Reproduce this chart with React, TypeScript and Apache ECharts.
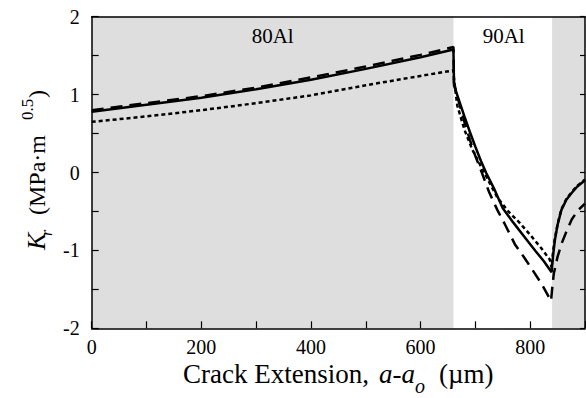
import React, { useEffect, useRef } from "react";
import * as echarts from "echarts";

// x: crack extension (µm), y: Kr (MPa·m^0.5)
const solidData: [number, number][] = [
  [0, 0.78], [100, 0.87], [200, 0.96], [300, 1.07], [400, 1.19], [500, 1.33], [600, 1.48], [660, 1.58],
  [661, 1.12], [670, 0.93], [680, 0.72], [690, 0.52], [700, 0.33], [710, 0.15], [720, -0.01], [735, -0.22],
  [750, -0.46], [770, -0.65], [790, -0.83], [810, -1.01], [825, -1.14], [839, -1.28],
  [842, -1.05], [845, -0.87], [850, -0.67], [857, -0.48], [866, -0.35], [876, -0.26], [886, -0.18], [900, -0.1],
];
const dashedData: [number, number][] = [
  [0, 0.8], [100, 0.89], [200, 0.98], [300, 1.09], [400, 1.22], [500, 1.36], [600, 1.51], [660, 1.61],
  [661, 1.15], [670, 0.9], [680, 0.65], [690, 0.42], [700, 0.21], [710, 0.03], [725, -0.25], [740, -0.48],
  [755, -0.68], [772, -0.92], [790, -1.1], [805, -1.26], [820, -1.42], [838, -1.65],
  [840, -1.5], [843, -1.3], [850, -1.08], [858, -0.9], [866, -0.76], [876, -0.6], [888, -0.48], [900, -0.4],
];
const dottedData: [number, number][] = [
  [0, 0.65], [100, 0.72], [200, 0.8], [300, 0.89], [400, 0.99], [500, 1.12], [600, 1.24], [660, 1.31],
  [661, 1.2], [667, 0.86], [680, 0.55], [694, 0.3], [710, 0.08], [725, -0.12], [740, -0.32], [760, -0.5],
  [780, -0.64], [800, -0.8], [820, -0.97], [836, -1.12], [839, -1.22],
  [842, -1.0], [845, -0.85], [850, -0.66], [857, -0.47], [866, -0.34], [876, -0.25], [886, -0.17], [900, -0.09],
];
const grayBands: [number, number][] = [[0, 660], [840, 900]];
const bandLabels = [{ text: "80Al", x: 329 }, { text: "90Al", x: 749 }];

const FONT = "Liberation Serif, Times New Roman, serif";

// text pieces: offset along the baseline (s), baseline shift (dy)
type Piece = { t: string; size: number; s: number; italic?: boolean; dy?: number };

function runText(pieces: Piece[], ox: number, oy: number, vertical: boolean) {
  return pieces.map((p) => {
    const off = (p.dy || 0) - 0.3375 * p.size;
    return {
      type: "text",
      x: vertical ? ox + off : ox + p.s,
      y: vertical ? oy - p.s : oy + off,
      rotation: vertical ? Math.PI / 2 : 0,
      z: 10,
      style: {
        text: p.t,
        font: `${p.italic ? "italic " : ""}${p.size}px ${FONT}`,
        fill: "#000",
        align: "left",
        verticalAlign: "middle",
      },
    };
  });
}

export default function App() {
  const ref = useRef<HTMLDivElement>(null);
  useEffect(() => {
    if (!ref.current) return;
    const chart = echarts.init(ref.current, null, { renderer: "svg" });
    const axisLabelStyle = { fontFamily: FONT, fontSize: 20, color: "#000" };
    const lineBase = { color: "#000", width: 2.5 };
    const xTitle = runText([
      { t: "Crack Extension,", size: 27, s: 0 },
      { t: "a-a", size: 27, italic: true, s: 196 },
      { t: "o", size: 20, italic: true, dy: 10, s: 232 },
      { t: "(µm)", size: 27, s: 256 },
    ], 183, 383, false);
    const yTitle = runText([
      { t: "K", size: 26, italic: true, s: 0 },
      { t: "r", size: 16, italic: true, dy: 7, s: 14 },
      { t: "(MPa·m", size: 24, s: 35 },
      { t: "0.5", size: 17, dy: -12, s: 130 },
      { t: ")", size: 24, s: 152 },
    ], 45, 250, true);
    const xToPx = (v: number) => 91.7 + v * 0.55;
    chart.setOption({
      animation: false,
      grid: { left: 91.7, right: 1.3, top: 16.7, bottom: 69.7 },
      xAxis: [
        {
          type: "value", min: 0, max: 900, interval: 100, z: 10,
          axisLine: { show: true, onZero: false, lineStyle: { color: "#000", width: 1.5 } },
          axisTick: { show: true, inside: true, length: 7, lineStyle: { color: "#000", width: 1.2 } },
          axisLabel: { ...axisLabelStyle, margin: 9, formatter: (v: number) => (v % 200 === 0 ? String(v) : "") },
          splitLine: { show: false },
        },
        {
          type: "value", min: 0, max: 900, position: "top", z: 10,
          axisLine: { show: true, onZero: false, lineStyle: { color: "#000", width: 1.5 } },
          axisTick: { show: false }, axisLabel: { show: false }, splitLine: { show: false },
        },
      ],
      yAxis: [
        {
          type: "value", min: -2, max: 2, interval: 0.5, z: 10,
          axisLine: { show: true, onZero: false, lineStyle: { color: "#000", width: 1.5 } },
          axisTick: { show: true, inside: true, length: 7, lineStyle: { color: "#000", width: 1.2 } },
          axisLabel: { ...axisLabelStyle, margin: 12, formatter: (v: number) => (Number.isInteger(v) ? String(v) : "") },
          splitLine: { show: false },
        },
        {
          type: "value", min: -2, max: 2, interval: 0.5, position: "right", z: 10,
          axisLine: { show: true, onZero: false, lineStyle: { color: "#000", width: 1.5 } },
          axisTick: { show: true, inside: true, length: 5, lineStyle: { color: "#000", width: 1.2 } },
          axisLabel: { show: false }, splitLine: { show: false },
        },
      ],
      series: [
        {
          type: "line", data: [], z: 0,
          markArea: {
            silent: true,
            itemStyle: { color: "#dedede" },
            data: grayBands.map(([a, b]) => [{ xAxis: a }, { xAxis: b }]),
          },
        },
        { type: "line", data: solidData, showSymbol: false, lineStyle: { ...lineBase, type: "solid" }, z: 3 },
        { type: "line", data: dottedData, showSymbol: false, lineStyle: { ...lineBase, type: [4, 3] }, z: 3 },
        { type: "line", data: dashedData, showSymbol: false, lineStyle: { ...lineBase, type: [12, 7] }, z: 3 },
      ],
      graphic: [
        ...bandLabels.map((b) => ({
          type: "text",
          x: xToPx(b.x),
          y: 43 - 0.3375 * 21,
          style: { text: b.text, font: `21px ${FONT}`, fill: "#000", align: "center", verticalAlign: "middle" },
          z: 10,
        })),
        ...xTitle,
        ...yTitle,
      ],
    });
    return () => chart.dispose();
  }, []);
  return (
    <div style={{ position: "absolute", left: 0, top: 0, width: 586, height: 398, overflow: "hidden", background: "#fff" }}>
      <div ref={ref} style={{ width: 588, height: 398 }} />
    </div>
  );
}
